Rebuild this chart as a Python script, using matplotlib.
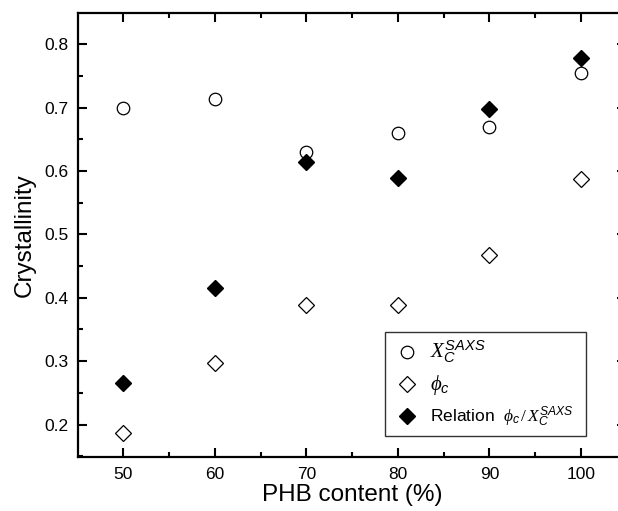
import matplotlib
matplotlib.use("Agg")
import matplotlib.pyplot as plt
from matplotlib.ticker import MultipleLocator

plt.rcParams["font.family"] = ["Liberation Sans", "DejaVu Sans"]
plt.rcParams["mathtext.fontset"] = "custom"
plt.rcParams["mathtext.rm"] = "Liberation Serif"
plt.rcParams["mathtext.it"] = "Liberation Serif:italic"
plt.rcParams["mathtext.sf"] = "Liberation Sans:italic"

# 数据
phb = [50, 60, 70, 80, 90, 100]
x_saxs = [0.699, 0.713, 0.630, 0.660, 0.669, 0.754]
phi_c = [0.186, 0.297, 0.388, 0.389, 0.467, 0.588]
relation = [0.266, 0.415, 0.615, 0.589, 0.698, 0.778]

LBL_X = r"$X_{\mathsf{C}}^{\mathsf{SAXS}}$"
LBL_PHI = r"$\phi_{\mathsf{c}}$"
LBL_REL = r"Relation  $\phi_{\mathsf{c}}\,/\,X_{\mathsf{C}}^{\mathsf{SAXS}}$"

fig = plt.figure(figsize=(6.18, 5.11), dpi=100)
# 右侧边框在图外 (原图被裁掉)
ax = fig.add_axes([0.1267, 0.106, 0.886, 0.868])

ax.plot(phb, x_saxs, "o", ms=9, mfc="white", mec="black", mew=0.9,
        ls="none", label=LBL_X)
ax.plot(phb, phi_c, "D", ms=8, mfc="white", mec="black", mew=0.9,
        ls="none", label=LBL_PHI)
ax.plot(phb, relation, "D", ms=8, mfc="black", mec="black",
        ls="none", label=LBL_REL)

ax.set_xlim(45.1, 104.9)
ax.set_ylim(0.149, 0.849)
ax.xaxis.set_major_locator(MultipleLocator(10))
ax.xaxis.set_minor_locator(MultipleLocator(5))
ax.yaxis.set_major_locator(MultipleLocator(0.1))
ax.yaxis.set_minor_locator(MultipleLocator(0.05))
ax.tick_params(which="both", direction="in", top=True, right=True,
               labelsize=12.5, width=1.5)
ax.tick_params(which="major", length=6.5, pad=7)
ax.tick_params(which="minor", length=3.5)
for s in ax.spines.values():
    s.set_linewidth(1.6)

ax.set_xlabel("PHB content (%)", fontsize=17.5, labelpad=2)
ax.set_ylabel("Crystallinity", fontsize=17.5, labelpad=6)

leg = ax.legend(loc="lower left", bbox_to_anchor=(0.5597, 0.0467, 0.367, 0.232),
                mode="expand", fontsize=12.5, frameon=True, fancybox=False,
                edgecolor="black", handletextpad=0.4, handlelength=1.8,
                borderpad=0.4, labelspacing=0.45, borderaxespad=0)
leg.get_frame().set_linewidth(1.0)
txts = leg.get_texts()
txts[0].set_fontsize(15)
txts[1].set_fontsize(15)
txts[2].set_fontsize(12.5)

fig.savefig("out.png", dpi=100)
